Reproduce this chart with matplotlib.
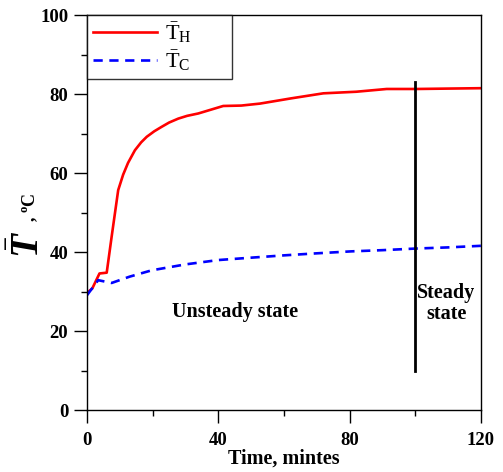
import matplotlib
matplotlib.use("Agg")
import matplotlib.pyplot as plt

plt.rcParams['font.family'] = ['Liberation Serif', 'DejaVu Serif']
plt.rcParams['mathtext.fontset'] = 'custom'
plt.rcParams['mathtext.rm'] = 'Liberation Serif'
plt.rcParams['mathtext.it'] = 'Liberation Serif:italic:bold'
plt.rcParams['mathtext.bf'] = 'Liberation Serif:bold'

# hot side mean temperature
t_hot = [0, 1.6, 3.8, 6.0, 7.5, 9.5, 11.0, 12.5, 14.6, 16.5, 18.2, 20.5, 22.7, 25.0,
         27.8, 30.5, 33.9, 37.5, 41.5, 47.0, 52.7, 62.0, 72, 82.0, 91.3, 100.4, 110.0, 120]
T_hot = [29.7, 30.8, 34.6, 34.8, 43.9, 55.7, 59.6, 62.6, 65.8, 67.8, 69.2, 70.6, 71.7, 72.8,
         73.8, 74.5, 75.1, 76.0, 77.0, 77.1, 77.6, 78.9, 80.2, 80.6, 81.3, 81.3, 81.4, 81.5]

# cold side mean temperature
t_cold = [0, 3.4, 7.5, 13.0, 19.7, 30.0, 40, 50.0, 60.3, 70.0, 80.6, 90.0, 99.9, 110.0, 120]
T_cold = [29.1, 32.9, 32.2, 33.8, 35.4, 36.9, 38.0, 38.6, 39.2, 39.7, 40.2, 40.5, 40.9, 41.2, 41.6]

steady_start = 100
steady_line = [10, 83]

fig = plt.figure(figsize=(5.03, 4.72), dpi=100)
ax = fig.add_axes([0.173, 0.131, 0.783, 0.837])

ax.plot(t_hot, T_hot, color='#ff0000', lw=1.9, label=r'$\bar{\mathrm{T}}_\mathrm{H}$')
ax.plot(t_cold, T_cold, color='#0000ff', lw=1.9, ls=(0, (3.5, 2.5)),
        label=r'$\bar{\mathrm{T}}_\mathrm{C}$')
ax.plot([steady_start, steady_start], steady_line, color='black', lw=2)

ax.text(45, 24.8, 'Unsteady state', fontsize=14.5, fontweight='bold',
        ha='center', va='center')
ax.text(109.5, 27, 'Steady\nstate', fontsize=14.5, fontweight='bold',
        ha='center', va='center', linespacing=1.1)

ax.set_xlim(0, 120)
ax.set_ylim(0, 100)
ax.set_xticks([0, 40, 80, 120])
ax.set_xticks([20, 60, 100], minor=True)
ax.set_yticks([0, 20, 40, 60, 80, 100])
ax.set_yticks([10, 30, 50, 70, 90], minor=True)
ax.tick_params(which='major', direction='out', length=9.5, width=1, labelsize=13.5, pad=4)
ax.tick_params(which='minor', direction='out', length=4.5, width=1)
ax.tick_params(axis='x', which='major', pad=6)
for lab in ax.get_xticklabels() + ax.get_yticklabels():
    lab.set_fontweight('bold')
for sp in ax.spines.values():
    sp.set_linewidth(1)

ax.set_xlabel('Time, mintes', fontsize=14.5, fontweight='bold', labelpad=0)

# y label: large bold italic T with bar, then the unit
fig.text(0.058, 0.481, r'$\bar{T}$', rotation=90, fontsize=28,
         ha='center', va='center')
fig.text(0.060, 0.562, r', $^\mathbf{o}$C', rotation=90, fontsize=13,
         fontweight='bold', ha='center', va='center')

# legend box stretched to a fixed width in the top-left corner
leg = ax.legend(loc='upper left', bbox_to_anchor=(0, 1, 0.368, 0), mode='expand',
                fontsize=16, frameon=True, fancybox=False,
                borderaxespad=0, handlelength=2.9, handletextpad=0.35,
                borderpad=0.25, labelspacing=0.15)
leg.get_frame().set_edgecolor('black')
leg.get_frame().set_linewidth(1)

fig.savefig('out.png', dpi=100)
